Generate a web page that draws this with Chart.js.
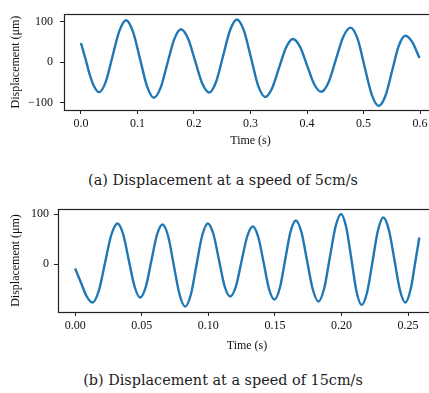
<!DOCTYPE html>
<html>
<head>
<meta charset="utf-8">
<script src="https://cdn.jsdelivr.net/npm/chart.js@4.4.1/dist/chart.umd.min.js"></script>
<style>
    html, body { margin: 0; padding: 0; background: #fff; }
    #page { position: relative; width: 429px; height: 393px; overflow: hidden; background: #fff; }
    canvas { position: absolute; left: 0; }
    .caption {
        position: absolute; left: 0; width: 446px; text-align: center;
        font-family: 'DejaVu Serif', serif; font-size: 14.4px; line-height: 20px; color: #222;
    }
</style>
</head>
<body>
<div id="page">
    <canvas id="chartA" width="440" height="160" style="top:0px"></canvas>
    <div class="caption" style="top:170px">(a) Displacement at a speed of 5cm/s</div>
    <canvas id="chartB" width="440" height="165" style="top:195px"></canvas>
    <div class="caption" style="top:370px">(b) Displacement at a speed of 15cm/s</div>
</div>
<script>
// (a) 5 cm/s
const timeA = [
    0.000, 0.008, 0.016, 0.024, 0.032, 0.044, 0.056, 0.068, 0.080, 0.092,
    0.1045, 0.117, 0.129, 0.141, 0.153, 0.165, 0.177, 0.1895, 0.202, 0.2145,
    0.227, 0.239, 0.2515, 0.264, 0.276, 0.2885, 0.301, 0.3135, 0.326, 0.338,
    0.3505, 0.363, 0.375, 0.3875, 0.400, 0.4125, 0.425, 0.438, 0.451, 0.464,
    0.477, 0.4895, 0.502, 0.5145, 0.527, 0.5388, 0.5505, 0.5623, 0.574, 0.5863,
    0.599
];
const dispA = [
    47, 8, -33, -62, -74, -48, 15, 77, 103, 75,
    8, -60, -88, -63, -3, 56, 81, 58, 3, -52,
    -75, -49, 15, 79, 105, 77, 10, -58, -86, -65,
    -14, 36, 57, 38, -8, -54, -73, -50, 6, 62,
    85, 57, -12, -80, -108, -83, -22, 40, 65, 49,
    10
];
const xTicksA = [0, 0.1, 0.2, 0.3, 0.4, 0.5, 0.6];
const yTicksA = [-100, 0, 100];

// (b) 15 cm/s
const timeB = [
    0.0000, 0.0043, 0.0087, 0.0130, 0.0177, 0.0224, 0.0271, 0.0318, 0.0361, 0.0403,
    0.0446, 0.0488, 0.0530, 0.0572, 0.0614, 0.0656, 0.0699, 0.0741, 0.0784, 0.0826,
    0.0869, 0.0911, 0.0954, 0.0996, 0.1038, 0.1080, 0.1122, 0.1164, 0.1207, 0.1249,
    0.1292, 0.1334, 0.1375, 0.1416, 0.1456, 0.1497, 0.1537, 0.1577, 0.1617, 0.1657,
    0.1700, 0.1742, 0.1785, 0.1827, 0.1870, 0.1912, 0.1955, 0.1997, 0.2036, 0.2075,
    0.2113, 0.2152, 0.2193, 0.2234, 0.2274, 0.2315, 0.2356, 0.2398, 0.2439, 0.2480,
    0.2520, 0.2555, 0.2585
];
const dispB = [
    -9, -37, -65, -77, -54, 2, 58, 81, 59, 7,
    -45, -67, -46, 6, 58, 79, 55, -3, -61, -85,
    -61, -2, 57, 81, 60, 8, -44, -65, -45, 5,
    55, 75, 54, 2, -50, -71, -48, 8, 64, 87,
    63, 6, -51, -75, -49, 12, 74, 100, 73, 9,
    -55, -82, -56, 6, 67, 93, 68, 8, -52, -77,
    -50, 5, 53
];
const xTicksB = [0, 0.05, 0.10, 0.15, 0.20, 0.25];
const yTicksB = [0, 100];

const axisFont = { family: "'Liberation Serif', 'Times New Roman', serif", size: 12 };
const textColor = '#111';

// matplotlib-like closed frame around the plot area
const framePlugin = {
    id: 'frame',
    afterDraw(chart) {
        const { ctx, chartArea: a } = chart;
        ctx.save();
        ctx.strokeStyle = '#222';
        ctx.lineWidth = 1.2;
        ctx.strokeRect(Math.round(a.left) + 0.5, Math.round(a.top) + 0.5,
            Math.round(a.right - a.left), Math.round(a.bottom - a.top));
        ctx.restore();
    }
};

function createDisplacementChart(id, times, values, cfg) {
    const ctx = document.getElementById(id).getContext('2d');
    return new Chart(ctx, {
        type: 'line',
        data: {
            datasets: [{
                data: times.map((t, i) => ({ x: t, y: values[i] })),
                borderColor: '#1f77b4',
                borderWidth: 2.4,
                pointRadius: 0,
                fill: false,
                cubicInterpolationMode: 'monotone'
            }]
        },
        options: {
            responsive: false,
            animation: false,
            devicePixelRatio: 1,
            layout: { padding: cfg.padding },
            plugins: { legend: { display: false }, tooltip: { enabled: false } },
            scales: {
                x: {
                    type: 'linear',
                    min: cfg.xMin,
                    max: cfg.xMax,
                    afterBuildTicks: axis => { axis.ticks = cfg.xTicks.map(v => ({ value: v })); },
                    afterFit: s => { s.height = cfg.xHeight; },
                    ticks: {
                        autoSkip: false, maxRotation: 0, padding: 3,
                        font: axisFont, color: textColor,
                        callback: v => v.toFixed(cfg.xDigits)
                    },
                    grid: { drawOnChartArea: false, drawTicks: true, tickLength: 4, tickColor: '#222' },
                    border: { display: false },
                    title: { display: true, text: 'Time (s)', font: axisFont, color: textColor, padding: { top: 0, bottom: cfg.xTitlePad } }
                },
                y: {
                    min: cfg.yMin,
                    max: cfg.yMax,
                    afterBuildTicks: axis => { axis.ticks = cfg.yTicks.map(v => ({ value: v })); },
                    afterFit: s => { s.width = cfg.yWidth; },
                    ticks: {
                        padding: cfg.yTickPad,
                        font: axisFont, color: textColor,
                        callback: v => (v < 0 ? '\u2212' + Math.abs(v) : String(v))
                    },
                    grid: { drawOnChartArea: false, drawTicks: true, tickLength: 4, tickColor: '#222' },
                    border: { display: false },
                    title: { display: true, text: 'Displacement (\u03bcm)', font: axisFont, color: textColor, padding: { top: 9, bottom: 0 } }
                }
            }
        },
        plugins: [framePlugin]
    });
}

createDisplacementChart('chartA', timeA, dispA, {
    padding: { top: 6, right: 3, bottom: 10, left: 0 },
    xMin: -0.03, xMax: 0.63, xTicks: xTicksA, xDigits: 1, xHeight: 40, xTitlePad: 2,
    yMin: -118, yMax: 118, yTicks: yTicksA, yWidth: 64, yTickPad: 7
});

createDisplacementChart('chartB', timeB, dispB, {
    padding: { top: 14, right: 4, bottom: 6, left: 0 },
    xMin: -0.0129, xMax: 0.271, xTicks: xTicksB, xDigits: 2, xHeight: 42, xTitlePad: 1,
    yMin: -96, yMax: 110, yTicks: yTicksB, yWidth: 58, yTickPad: 5
});
</script>
</body>
</html>
